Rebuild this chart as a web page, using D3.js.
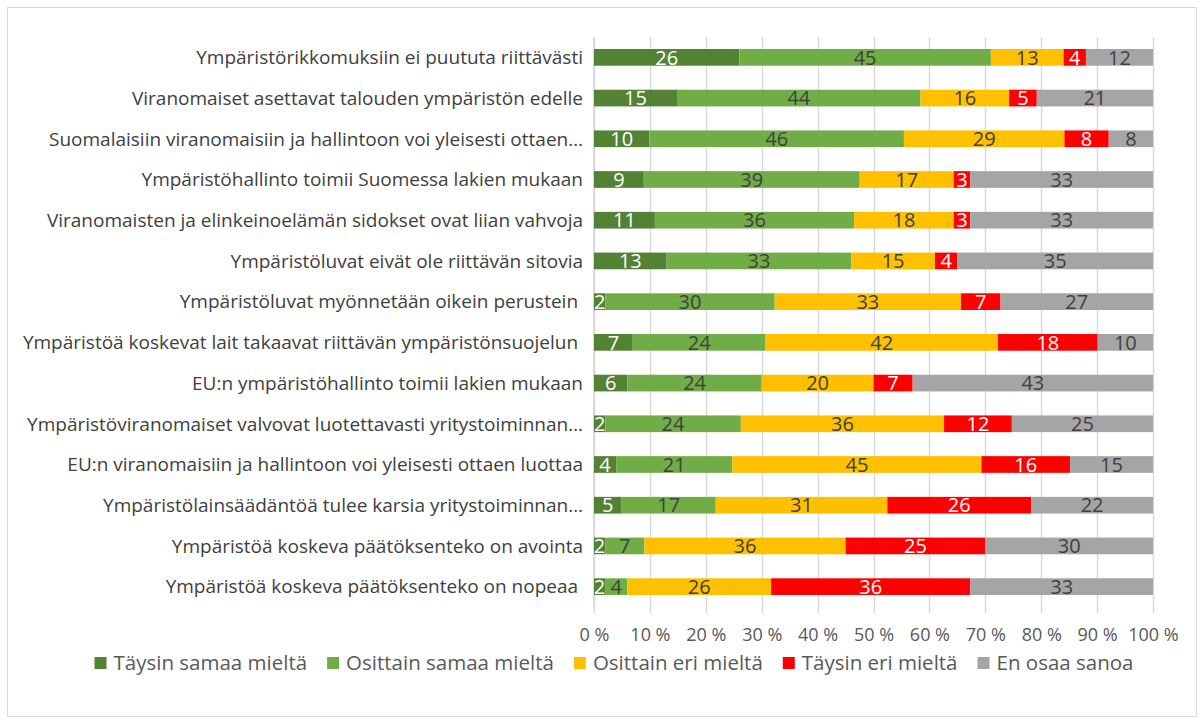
<!DOCTYPE html>
<meta charset="utf-8">
<head>
  <script src="https://d3js.org/d3.v7.min.js"></script>
  <style>
    body { margin: 0; background: #fff; }
    text { font-family: "Open Sans", "Liberation Sans", sans-serif; white-space: pre; }
  </style>
</head>
<body>
<div id="chart"></div>
<script>
// categories (top to bottom) and the five answer series, in %
var categories = [
  "Ympäristörikkomuksiin ei puututa riittävästi",
  "Viranomaiset asettavat talouden ympäristön edelle",
  "Suomalaisiin viranomaisiin ja hallintoon voi yleisesti ottaen…",
  "Ympäristöhallinto toimii Suomessa lakien mukaan",
  "Viranomaisten ja elinkeinoelämän sidokset ovat liian vahvoja",
  "Ympäristöluvat eivät ole riittävän sitovia",
  "Ympäristöluvat myönnetään oikein perustein ",
  "Ympäristöä koskevat lait takaavat riittävän ympäristönsuojelun ",
  "EU:n ympäristöhallinto toimii lakien mukaan",
  "Ympäristöviranomaiset valvovat luotettavasti yritystoiminnan…",
  "EU:n viranomaisiin ja hallintoon voi yleisesti ottaen luottaa",
  "Ympäristölainsäädäntöä tulee karsia yritystoiminnan…",
  "Ympäristöä koskeva päätöksenteko on avointa",
  "Ympäristöä koskeva päätöksenteko on nopeaa "
];
var seriesNames = ["Täysin samaa mieltä", "Osittain samaa mieltä", "Osittain eri mieltä", "Täysin eri mieltä", "En osaa sanoa"];
var taysinSamaa  = [26, 15, 10, 9, 11, 13, 2, 7, 6, 2, 4, 5, 2, 2];
var osittainSamaa = [45, 44, 46, 39, 36, 33, 30, 24, 24, 24, 21, 17, 7, 4];
var osittainEri  = [13, 16, 29, 17, 18, 15, 33, 42, 20, 36, 45, 31, 36, 26];
var taysinEri    = [4, 5, 8, 3, 3, 4, 7, 18, 7, 12, 16, 26, 25, 36];
var enOsaa       = [12, 21, 8, 33, 33, 35, 27, 10, 43, 25, 15, 22, 30, 33];
var xTicks = [0, 10, 20, 30, 40, 50, 60, 70, 80, 90, 100];

var colors = ["#548235", "#70ad47", "#ffc000", "#ff0000", "#a5a5a5"];
var labelColors = ["#ffffff", "#404040", "#404040", "#ffffff", "#404040"];

var W = 1204, H = 725;
var margin = {left: 594, right: 51, top: 37, bottom: 118};

var svg = d3.select("#chart").append("svg").attr("width", W).attr("height", H);
svg.append("rect").attr("x", 7.5).attr("y", 7.5).attr("width", W - 15).attr("height", H - 16)
  .attr("fill", "#fff").attr("stroke", "#d9d9d9");

var rows = categories.map(function(c, i) {
  return {cat: c, s0: taysinSamaa[i], s1: osittainSamaa[i], s2: osittainEri[i], s3: taysinEri[i], s4: enOsaa[i]};
});
var keys = ["s0", "s1", "s2", "s3", "s4"];
var stack = d3.stack().keys(keys).offset(d3.stackOffsetExpand);
var layers = stack(rows);

var x = d3.scaleLinear().domain([0, 1]).range([margin.left, W - margin.right]);
var y = d3.scaleBand().domain(categories).range([margin.top, H - margin.bottom]).paddingInner(0.59).paddingOuter(0.295);

// gridlines
svg.append("g").selectAll("line").data(xTicks).enter().append("line")
  .attr("x1", function(d) { return Math.round(x(d / 100)) + 0.5; })
  .attr("x2", function(d) { return Math.round(x(d / 100)) + 0.5; })
  .attr("y1", margin.top).attr("y2", H - margin.bottom + 6)
  .attr("stroke", "#d9d9d9").attr("stroke-width", 1.5);

// bars
var g = svg.append("g").selectAll("g").data(layers).enter().append("g")
  .attr("fill", function(d, i) { return colors[i]; });
g.selectAll("rect").data(function(d) { return d; }).enter().append("rect")
  .attr("x", function(d) { return x(d[0]); })
  .attr("width", function(d) { return x(d[1]) - x(d[0]); })
  .attr("y", function(d) { return y(d.data.cat); })
  .attr("height", y.bandwidth());

// data labels
layers.forEach(function(layer, li) {
  svg.append("g").selectAll("text").data(layer).enter().append("text")
    .attr("x", function(d) { return (x(d[0]) + x(d[1])) / 2; })
    .attr("y", function(d) { return y(d.data.cat) + y.bandwidth() / 2; })
    .attr("dy", "0.36em")
    .attr("text-anchor", "middle")
    .attr("font-size", 20)
    .attr("fill", labelColors[li])
    .text(function(d) { return d.data[keys[li]]; });
});

// category axis line
svg.append("line").attr("x1", margin.left - 0.5).attr("x2", margin.left - 0.5)
  .attr("y1", margin.top).attr("y2", H - margin.bottom)
  .attr("stroke", "#d9d9d9");

// category labels
svg.append("g").selectAll("text").data(categories).enter().append("text")
  .attr("x", margin.left - 11)
  .attr("y", function(d) { return y(d) + y.bandwidth() / 2; })
  .attr("dy", "0.36em")
  .attr("text-anchor", "end")
  .attr("font-size", 19)
  .attr("fill", "#404040")
  .text(function(d) { return d; });

// x axis
var xAxis = svg.append("g").attr("transform", "translate(0," + (H - margin.bottom + 8) + ")")
  .call(d3.axisBottom(x).tickValues(xTicks.map(function(d) { return d / 100; }))
    .tickFormat(function(d) { return Math.round(d * 100) + " %"; }).tickSize(0).tickPadding(13));
xAxis.select(".domain").remove();
xAxis.selectAll("text").attr("font-size", 18).attr("fill", "#595959")
  .style("font-family", "'Open Sans', sans-serif");

// legend
var legend = svg.append("g");
var lx = 0;
seriesNames.forEach(function(name, i) {
  var item = legend.append("g").attr("transform", "translate(" + lx + ",0)");
  item.append("rect").attr("x", 0).attr("y", -6).attr("width", 12).attr("height", 12).attr("fill", colors[i]);
  var t = item.append("text").attr("x", 19).attr("dy", "0.36em").attr("font-size", 20.5)
    .attr("fill", "#595959").text(name);
  lx += 19 + t.node().getComputedTextLength() + 20;
});
var lw = lx - 20;
legend.attr("transform", "translate(" + (614 - lw / 2) + ",663)");
</script>
</body>
